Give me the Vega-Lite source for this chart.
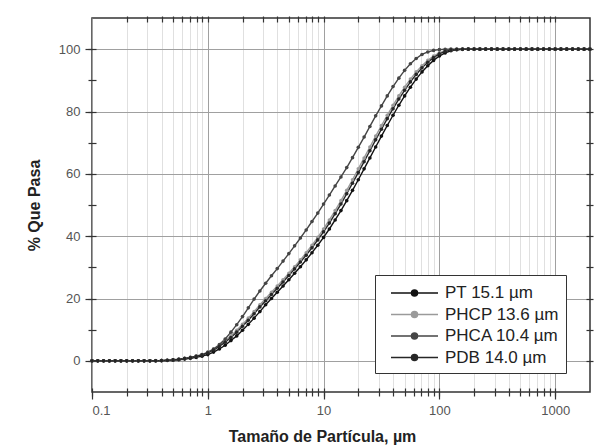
{
"$schema": "https://vega.github.io/schema/vega-lite/v6.json",
"width": 498, "height": 374,
"autosize": "none",
"padding": {"left": 92, "top": 18, "right": 8, "bottom": 55},
"background": "white",
"config": {
  "font": "Liberation Sans",
  "view": {"stroke": "#333", "strokeWidth": 1.5},
  "axis": {"labelFont": "Liberation Sans", "titleFont": "Liberation Sans", "labelFontSize": 13, "labelColor": "#555", "titleFontSize": 16, "titleFontWeight": "bold", "titleColor": "#222", "tickColor": "#333", "tickWidth": 1.2}
},
"data": {"values": [
{"s":"PT","x":0.1,"y":0},{"s":"PT","x":0.1122,"y":0},{"s":"PT","x":0.1259,"y":0},{"s":"PT","x":0.1413,"y":0},{"s":"PT","x":0.1585,"y":0},{"s":"PT","x":0.1778,"y":0},{"s":"PT","x":0.1995,"y":0},{"s":"PT","x":0.2239,"y":0},{"s":"PT","x":0.2512,"y":0},{"s":"PT","x":0.2818,"y":0},{"s":"PT","x":0.3162,"y":0},{"s":"PT","x":0.3548,"y":0},{"s":"PT","x":0.3981,"y":0.05},{"s":"PT","x":0.4467,"y":0.1},{"s":"PT","x":0.5012,"y":0.2},{"s":"PT","x":0.5623,"y":0.35},{"s":"PT","x":0.631,"y":0.55},{"s":"PT","x":0.7079,"y":0.8},{"s":"PT","x":0.7943,"y":1.1},{"s":"PT","x":0.8913,"y":1.5},{"s":"PT","x":1,"y":2},{"s":"PT","x":1.122,"y":2.8},{"s":"PT","x":1.259,"y":3.8},{"s":"PT","x":1.413,"y":5},{"s":"PT","x":1.585,"y":6.5},{"s":"PT","x":1.778,"y":8},{"s":"PT","x":1.995,"y":9.8},{"s":"PT","x":2.239,"y":11.7},{"s":"PT","x":2.512,"y":13.7},{"s":"PT","x":2.818,"y":15.8},{"s":"PT","x":3.162,"y":18},{"s":"PT","x":3.548,"y":20},{"s":"PT","x":3.981,"y":22},{"s":"PT","x":4.467,"y":24},{"s":"PT","x":5.012,"y":26},{"s":"PT","x":5.623,"y":28.1},{"s":"PT","x":6.31,"y":30.2},{"s":"PT","x":7.079,"y":32.4},{"s":"PT","x":7.943,"y":34.7},{"s":"PT","x":8.913,"y":37.1},{"s":"PT","x":10,"y":39.6},{"s":"PT","x":11.22,"y":42.3},{"s":"PT","x":12.59,"y":45.2},{"s":"PT","x":14.13,"y":48.2},{"s":"PT","x":15.85,"y":51.4},{"s":"PT","x":17.78,"y":54.7},{"s":"PT","x":19.95,"y":58.1},{"s":"PT","x":22.39,"y":61.6},{"s":"PT","x":25.12,"y":65.1},{"s":"PT","x":28.18,"y":68.6},{"s":"PT","x":31.62,"y":72.1},{"s":"PT","x":35.48,"y":75.5},{"s":"PT","x":39.81,"y":78.8},{"s":"PT","x":44.67,"y":82},{"s":"PT","x":50.12,"y":85},{"s":"PT","x":56.23,"y":87.8},{"s":"PT","x":63.1,"y":90.4},{"s":"PT","x":70.79,"y":92.7},{"s":"PT","x":79.43,"y":94.7},{"s":"PT","x":89.13,"y":96.4},{"s":"PT","x":100,"y":97.8},{"s":"PT","x":112.2,"y":98.8},{"s":"PT","x":125.9,"y":99.5},{"s":"PT","x":141.3,"y":99.8},{"s":"PT","x":158.5,"y":99.95},{"s":"PT","x":177.8,"y":100},{"s":"PT","x":199.5,"y":100},{"s":"PT","x":223.9,"y":100},{"s":"PT","x":251.2,"y":100},{"s":"PT","x":281.8,"y":100},{"s":"PT","x":316.2,"y":100},{"s":"PT","x":354.8,"y":100},{"s":"PT","x":398.1,"y":100},{"s":"PT","x":446.7,"y":100},{"s":"PT","x":501.2,"y":100},{"s":"PT","x":562.3,"y":100},{"s":"PT","x":631,"y":100},{"s":"PT","x":707.9,"y":100},{"s":"PT","x":794.3,"y":100},{"s":"PT","x":891.3,"y":100},{"s":"PT","x":1000,"y":100},{"s":"PT","x":1122,"y":100},{"s":"PT","x":1259,"y":100},{"s":"PT","x":1413,"y":100},{"s":"PT","x":1585,"y":100},{"s":"PT","x":1778,"y":100},{"s":"PT","x":1995,"y":100},
{"s":"PHCP","x":0.1,"y":0},{"s":"PHCP","x":0.1122,"y":0},{"s":"PHCP","x":0.1259,"y":0},{"s":"PHCP","x":0.1413,"y":0},{"s":"PHCP","x":0.1585,"y":0},{"s":"PHCP","x":0.1778,"y":0},{"s":"PHCP","x":0.1995,"y":0},{"s":"PHCP","x":0.2239,"y":0},{"s":"PHCP","x":0.2512,"y":0},{"s":"PHCP","x":0.2818,"y":0},{"s":"PHCP","x":0.3162,"y":0},{"s":"PHCP","x":0.3548,"y":0.05},{"s":"PHCP","x":0.3981,"y":0.1},{"s":"PHCP","x":0.4467,"y":0.2},{"s":"PHCP","x":0.5012,"y":0.35},{"s":"PHCP","x":0.5623,"y":0.55},{"s":"PHCP","x":0.631,"y":0.8},{"s":"PHCP","x":0.7079,"y":1.1},{"s":"PHCP","x":0.7943,"y":1.5},{"s":"PHCP","x":0.8913,"y":2},{"s":"PHCP","x":1,"y":2.8},{"s":"PHCP","x":1.122,"y":3.8},{"s":"PHCP","x":1.259,"y":5},{"s":"PHCP","x":1.413,"y":6.5},{"s":"PHCP","x":1.585,"y":8},{"s":"PHCP","x":1.778,"y":9.8},{"s":"PHCP","x":1.995,"y":11.7},{"s":"PHCP","x":2.239,"y":13.7},{"s":"PHCP","x":2.512,"y":15.8},{"s":"PHCP","x":2.818,"y":18},{"s":"PHCP","x":3.162,"y":20},{"s":"PHCP","x":3.548,"y":22},{"s":"PHCP","x":3.981,"y":24},{"s":"PHCP","x":4.467,"y":26},{"s":"PHCP","x":5.012,"y":28.1},{"s":"PHCP","x":5.623,"y":30.2},{"s":"PHCP","x":6.31,"y":32.4},{"s":"PHCP","x":7.079,"y":34.7},{"s":"PHCP","x":7.943,"y":37.1},{"s":"PHCP","x":8.913,"y":39.6},{"s":"PHCP","x":10,"y":42.3},{"s":"PHCP","x":11.22,"y":45.2},{"s":"PHCP","x":12.59,"y":48.2},{"s":"PHCP","x":14.13,"y":51.4},{"s":"PHCP","x":15.85,"y":54.7},{"s":"PHCP","x":17.78,"y":58.1},{"s":"PHCP","x":19.95,"y":61.6},{"s":"PHCP","x":22.39,"y":65.1},{"s":"PHCP","x":25.12,"y":68.6},{"s":"PHCP","x":28.18,"y":72.1},{"s":"PHCP","x":31.62,"y":75.5},{"s":"PHCP","x":35.48,"y":78.8},{"s":"PHCP","x":39.81,"y":82},{"s":"PHCP","x":44.67,"y":85},{"s":"PHCP","x":50.12,"y":87.8},{"s":"PHCP","x":56.23,"y":90.4},{"s":"PHCP","x":63.1,"y":92.7},{"s":"PHCP","x":70.79,"y":94.7},{"s":"PHCP","x":79.43,"y":96.4},{"s":"PHCP","x":89.13,"y":97.8},{"s":"PHCP","x":100,"y":98.8},{"s":"PHCP","x":112.2,"y":99.5},{"s":"PHCP","x":125.9,"y":99.8},{"s":"PHCP","x":141.3,"y":99.95},{"s":"PHCP","x":158.5,"y":100},{"s":"PHCP","x":177.8,"y":100},{"s":"PHCP","x":199.5,"y":100},{"s":"PHCP","x":223.9,"y":100},{"s":"PHCP","x":251.2,"y":100},{"s":"PHCP","x":281.8,"y":100},{"s":"PHCP","x":316.2,"y":100},{"s":"PHCP","x":354.8,"y":100},{"s":"PHCP","x":398.1,"y":100},{"s":"PHCP","x":446.7,"y":100},{"s":"PHCP","x":501.2,"y":100},{"s":"PHCP","x":562.3,"y":100},{"s":"PHCP","x":631,"y":100},{"s":"PHCP","x":707.9,"y":100},{"s":"PHCP","x":794.3,"y":100},{"s":"PHCP","x":891.3,"y":100},{"s":"PHCP","x":1000,"y":100},{"s":"PHCP","x":1122,"y":100},{"s":"PHCP","x":1259,"y":100},{"s":"PHCP","x":1413,"y":100},{"s":"PHCP","x":1585,"y":100},{"s":"PHCP","x":1778,"y":100},{"s":"PHCP","x":1995,"y":100},
{"s":"PHCA","x":0.1,"y":0},{"s":"PHCA","x":0.1122,"y":0},{"s":"PHCA","x":0.1259,"y":0},{"s":"PHCA","x":0.1413,"y":0},{"s":"PHCA","x":0.1585,"y":0},{"s":"PHCA","x":0.1778,"y":0},{"s":"PHCA","x":0.1995,"y":0},{"s":"PHCA","x":0.2239,"y":0},{"s":"PHCA","x":0.2512,"y":0},{"s":"PHCA","x":0.2818,"y":0},{"s":"PHCA","x":0.3162,"y":0},{"s":"PHCA","x":0.3548,"y":0},{"s":"PHCA","x":0.3981,"y":0.1},{"s":"PHCA","x":0.4467,"y":0.2},{"s":"PHCA","x":0.5012,"y":0.3},{"s":"PHCA","x":0.5623,"y":0.5},{"s":"PHCA","x":0.631,"y":0.8},{"s":"PHCA","x":0.7079,"y":1.1},{"s":"PHCA","x":0.7943,"y":1.5},{"s":"PHCA","x":0.8913,"y":2},{"s":"PHCA","x":1,"y":2.7},{"s":"PHCA","x":1.122,"y":3.8},{"s":"PHCA","x":1.259,"y":5.2},{"s":"PHCA","x":1.413,"y":7},{"s":"PHCA","x":1.585,"y":9.2},{"s":"PHCA","x":1.778,"y":11.6},{"s":"PHCA","x":1.995,"y":14.2},{"s":"PHCA","x":2.239,"y":17},{"s":"PHCA","x":2.512,"y":19.8},{"s":"PHCA","x":2.818,"y":22.4},{"s":"PHCA","x":3.162,"y":24.9},{"s":"PHCA","x":3.548,"y":27.3},{"s":"PHCA","x":3.981,"y":29.6},{"s":"PHCA","x":4.467,"y":32},{"s":"PHCA","x":5.012,"y":34.4},{"s":"PHCA","x":5.623,"y":36.9},{"s":"PHCA","x":6.31,"y":39.4},{"s":"PHCA","x":7.079,"y":42},{"s":"PHCA","x":7.943,"y":44.7},{"s":"PHCA","x":8.913,"y":47.4},{"s":"PHCA","x":10,"y":50.3},{"s":"PHCA","x":11.22,"y":53.2},{"s":"PHCA","x":12.59,"y":56.1},{"s":"PHCA","x":14.13,"y":59},{"s":"PHCA","x":15.85,"y":62},{"s":"PHCA","x":17.78,"y":65.2},{"s":"PHCA","x":19.95,"y":68.5},{"s":"PHCA","x":22.39,"y":71.8},{"s":"PHCA","x":25.12,"y":75.2},{"s":"PHCA","x":28.18,"y":78.6},{"s":"PHCA","x":31.62,"y":81.8},{"s":"PHCA","x":35.48,"y":85},{"s":"PHCA","x":39.81,"y":88},{"s":"PHCA","x":44.67,"y":90.7},{"s":"PHCA","x":50.12,"y":93.2},{"s":"PHCA","x":56.23,"y":95.3},{"s":"PHCA","x":63.1,"y":97},{"s":"PHCA","x":70.79,"y":98.3},{"s":"PHCA","x":79.43,"y":99.1},{"s":"PHCA","x":89.13,"y":99.6},{"s":"PHCA","x":100,"y":99.85},{"s":"PHCA","x":112.2,"y":99.95},{"s":"PHCA","x":125.9,"y":100},{"s":"PHCA","x":141.3,"y":100},{"s":"PHCA","x":158.5,"y":100},{"s":"PHCA","x":177.8,"y":100},{"s":"PHCA","x":199.5,"y":100},{"s":"PHCA","x":223.9,"y":100},{"s":"PHCA","x":251.2,"y":100},{"s":"PHCA","x":281.8,"y":100},{"s":"PHCA","x":316.2,"y":100},{"s":"PHCA","x":354.8,"y":100},{"s":"PHCA","x":398.1,"y":100},{"s":"PHCA","x":446.7,"y":100},{"s":"PHCA","x":501.2,"y":100},{"s":"PHCA","x":562.3,"y":100},{"s":"PHCA","x":631,"y":100},{"s":"PHCA","x":707.9,"y":100},{"s":"PHCA","x":794.3,"y":100},{"s":"PHCA","x":891.3,"y":100},{"s":"PHCA","x":1000,"y":100},{"s":"PHCA","x":1122,"y":100},{"s":"PHCA","x":1259,"y":100},{"s":"PHCA","x":1413,"y":100},{"s":"PHCA","x":1585,"y":100},{"s":"PHCA","x":1778,"y":100},{"s":"PHCA","x":1995,"y":100},
{"s":"PDB","x":0.1,"y":0},{"s":"PDB","x":0.1122,"y":0},{"s":"PDB","x":0.1259,"y":0},{"s":"PDB","x":0.1413,"y":0},{"s":"PDB","x":0.1585,"y":0},{"s":"PDB","x":0.1778,"y":0},{"s":"PDB","x":0.1995,"y":0},{"s":"PDB","x":0.2239,"y":0},{"s":"PDB","x":0.2512,"y":0},{"s":"PDB","x":0.2818,"y":0},{"s":"PDB","x":0.3162,"y":0},{"s":"PDB","x":0.3548,"y":0.03},{"s":"PDB","x":0.3981,"y":0.08},{"s":"PDB","x":0.4467,"y":0.17},{"s":"PDB","x":0.5012,"y":0.3},{"s":"PDB","x":0.5623,"y":0.48},{"s":"PDB","x":0.631,"y":0.72},{"s":"PDB","x":0.7079,"y":1},{"s":"PDB","x":0.7943,"y":1.36},{"s":"PDB","x":0.8913,"y":1.83},{"s":"PDB","x":1,"y":2.53},{"s":"PDB","x":1.122,"y":3.46},{"s":"PDB","x":1.259,"y":4.6},{"s":"PDB","x":1.413,"y":6},{"s":"PDB","x":1.585,"y":7.5},{"s":"PDB","x":1.778,"y":9.2},{"s":"PDB","x":1.995,"y":11.1},{"s":"PDB","x":2.239,"y":13},{"s":"PDB","x":2.512,"y":15.1},{"s":"PDB","x":2.818,"y":17.3},{"s":"PDB","x":3.162,"y":19.3},{"s":"PDB","x":3.548,"y":21.3},{"s":"PDB","x":3.981,"y":23.3},{"s":"PDB","x":4.467,"y":25.3},{"s":"PDB","x":5.012,"y":27.4},{"s":"PDB","x":5.623,"y":29.5},{"s":"PDB","x":6.31,"y":31.7},{"s":"PDB","x":7.079,"y":33.9},{"s":"PDB","x":7.943,"y":36.3},{"s":"PDB","x":8.913,"y":38.8},{"s":"PDB","x":10,"y":41.4},{"s":"PDB","x":11.22,"y":44.2},{"s":"PDB","x":12.59,"y":47.2},{"s":"PDB","x":14.13,"y":50.3},{"s":"PDB","x":15.85,"y":53.6},{"s":"PDB","x":17.78,"y":57},{"s":"PDB","x":19.95,"y":60.4},{"s":"PDB","x":22.39,"y":63.9},{"s":"PDB","x":25.12,"y":67.4},{"s":"PDB","x":28.18,"y":70.9},{"s":"PDB","x":31.62,"y":74.3},{"s":"PDB","x":35.48,"y":77.7},{"s":"PDB","x":39.81,"y":80.9},{"s":"PDB","x":44.67,"y":84},{"s":"PDB","x":50.12,"y":86.8},{"s":"PDB","x":56.23,"y":89.5},{"s":"PDB","x":63.1,"y":91.9},{"s":"PDB","x":70.79,"y":94},{"s":"PDB","x":79.43,"y":95.8},{"s":"PDB","x":89.13,"y":97.3},{"s":"PDB","x":100,"y":98.5},{"s":"PDB","x":112.2,"y":99.3},{"s":"PDB","x":125.9,"y":99.7},{"s":"PDB","x":141.3,"y":99.9},{"s":"PDB","x":158.5,"y":99.98},{"s":"PDB","x":177.8,"y":100},{"s":"PDB","x":199.5,"y":100},{"s":"PDB","x":223.9,"y":100},{"s":"PDB","x":251.2,"y":100},{"s":"PDB","x":281.8,"y":100},{"s":"PDB","x":316.2,"y":100},{"s":"PDB","x":354.8,"y":100},{"s":"PDB","x":398.1,"y":100},{"s":"PDB","x":446.7,"y":100},{"s":"PDB","x":501.2,"y":100},{"s":"PDB","x":562.3,"y":100},{"s":"PDB","x":631,"y":100},{"s":"PDB","x":707.9,"y":100},{"s":"PDB","x":794.3,"y":100},{"s":"PDB","x":891.3,"y":100},{"s":"PDB","x":1000,"y":100},{"s":"PDB","x":1122,"y":100},{"s":"PDB","x":1259,"y":100},{"s":"PDB","x":1413,"y":100},{"s":"PDB","x":1585,"y":100},{"s":"PDB","x":1778,"y":100},{"s":"PDB","x":1995,"y":100}
]},
"layer": [
  {
    "mark": {"type": "line", "strokeWidth": 1.4},
    "encoding": {
      "x": {"field": "x", "type": "quantitative", "scale": {"type": "log", "domain": [0.1, 2000], "nice": false},
            "axis": {"orient": "bottom", "values": [0.1, 1, 10, 100, 1000], "grid": true, "gridColor": "#a0a0a0", "gridWidth": 1, "domain": false, "tickSize": 7, "labelPadding": 5, "labelExpr": "datum.value >= 1 ? format(datum.value, 'd') : '0.1'", "title": "Tamaño de Partícula, µm", "titleX": 230, "titleY": 36}},
      "y": {"field": "y", "type": "quantitative", "scale": {"domain": [-10, 110], "nice": false},
            "axis": {"orient": "left", "values": [0, 20, 40, 60, 80, 100], "grid": true, "gridColor": "#a0a0a0", "gridWidth": 1, "domain": false, "tickSize": 7, "labelPadding": 5, "title": "% Que Pasa", "titlePadding": 16}},
      "color": {"field": "s", "type": "nominal", "scale": {"domain": ["PT", "PHCP", "PHCA", "PDB"], "range": ["#111111", "#9a9a9a", "#454545", "#262626"]},
                "legend": {"title": null, "orient": "none", "legendX": 283, "legendY": 257, "labelFontSize": 17, "labelColor": "#222", "labelFont": "Liberation Sans", "labelExpr": "datum.value == 'PT' ? 'PT 15.1 µm' : datum.value == 'PHCP' ? 'PHCP 13.6 µm' : datum.value == 'PHCA' ? 'PHCA 10.4 µm' : 'PDB 14.0 µm'", "symbolType": "M-2.35,0H2.35M-0.3,0A0.3,0.3,0,1,1,0.3,0A0.3,0.3,0,1,1,-0.3,0", "symbolSize": 400, "symbolStrokeWidth": 1.5, "symbolOffset": 21.5, "labelOffset": 19.5, "strokeColor": "#333", "fillColor": "white", "padding": 7, "rowPadding": 2.5}}
    }
  },
  {
    "mark": {"type": "point", "filled": true, "size": 13, "opacity": 1},
    "encoding": {
      "x": {"field": "x", "type": "quantitative", "scale": {"type": "log", "domain": [0.1, 2000], "nice": false},
            "axis": {"orient": "bottom", "values": [0.2,0.3,0.4,0.5,0.6,0.7,0.8,0.9,2,3,4,5,6,7,8,9,20,30,40,50,60,70,80,90,200,300,400,500,600,700,800,900], "grid": true, "gridColor": "#d8d8d8", "gridWidth": 0.8, "ticks": false, "labels": false, "domain": false, "title": null}},
      "y": {"field": "y", "type": "quantitative", "scale": {"domain": [-10, 110], "nice": false},
            "axis": {"orient": "right", "values": [0,10,20,30,40,50,60,70,80,90,100], "offset": -4, "tickSize": 7, "labels": true, "labelExpr": "''", "grid": false, "domain": false, "title": null}},
      "color": {"field": "s", "type": "nominal"}
    }
  },
  {
    "mark": {"type": "point", "opacity": 0},
    "encoding": {
      "x": {"field": "x", "type": "quantitative", "scale": {"type": "log", "domain": [0.1, 2000], "nice": false},
            "axis": {"orient": "bottom", "values": [0.1,0.2,0.3,0.4,0.5,0.6,0.7,0.8,0.9,1,2,3,4,5,6,7,8,9,10,20,30,40,50,60,70,80,90,100,200,300,400,500,600,700,800,900,1000], "offset": -4, "tickSize": 8, "labels": true, "labelExpr": "''", "grid": false, "domain": false, "title": null}},
      "y": {"field": "y", "type": "quantitative", "scale": {"domain": [-10, 110], "nice": false},
            "axis": {"orient": "left", "values": [0,10,20,30,40,50,60,70,80,90,100], "offset": -4, "tickSize": 8, "labels": true, "labelExpr": "''", "grid": false, "domain": false, "title": null}}
    }
  },
  {
    "mark": {"type": "point", "opacity": 0},
    "encoding": {
      "x": {"field": "x", "type": "quantitative", "scale": {"type": "log", "domain": [0.1, 2000], "nice": false},
            "axis": {"orient": "top", "values": [0.2,0.3,0.4,0.5,0.6,0.7,0.8,0.9,1,2,3,4,5,6,7,8,9,10,20,30,40,50,60,70,80,90,100,200,300,400,500,600,700,800,900,1000], "offset": -4, "tickSize": 6, "labels": true, "labelExpr": "''", "grid": false, "domain": false, "title": null}},
      "y": {"field": "y", "type": "quantitative", "scale": {"domain": [-10, 110], "nice": false}, "axis": null}
    }
  }
],
"resolve": {"axis": {"x": "independent", "y": "independent"}}
}
